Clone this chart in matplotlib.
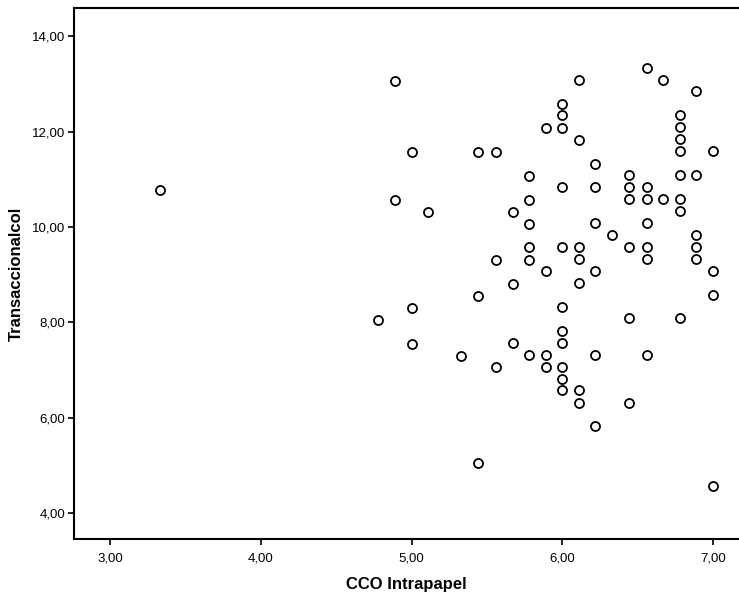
"""Scatter: CCO Intrapapel vs Transaccionalcol (SPSS-style open circles)."""
import matplotlib
matplotlib.use('Agg')
import matplotlib.pyplot as plt
from matplotlib.ticker import FuncFormatter

plt.rcParams['font.family'] = ['Liberation Sans', 'DejaVu Sans']

# values
cco_intrapapel = [
    3.33, 4.89, 5.89, 5.00, 5.44, 5.56, 5.78, 4.89, 5.78, 5.11,
    5.67, 6.56, 6.11, 6.67, 6.89, 6.00, 6.00, 6.00, 6.78, 6.78,
    6.78, 6.78, 7.00, 6.11, 6.22, 6.44, 6.78, 6.89, 6.00, 6.22,
    6.44, 6.56, 6.44, 6.56, 6.67, 6.78, 6.78, 6.22, 6.56, 6.33,
    6.89, 5.78, 5.78, 6.00, 6.11, 6.44, 6.56, 6.89, 5.56, 5.78,
    6.11, 6.56, 6.89, 5.89, 6.22, 7.00, 6.11, 5.67, 7.00, 5.44,
    5.00, 6.00, 4.78, 6.44, 6.78, 6.00, 5.00, 5.67, 6.00, 5.33,
    5.78, 5.89, 6.22, 6.56, 5.56, 5.89, 6.00, 6.00, 6.00, 6.11,
    6.11, 6.44, 6.22, 5.44, 7.00,
]
transaccionalcol = [
    10.78, 13.07, 12.08, 11.57, 11.57, 11.57, 11.07, 10.56, 10.56, 10.32,
    10.32, 13.34, 13.09, 13.09, 12.85, 12.59, 12.34, 12.08, 12.34, 12.09,
    11.85, 11.60, 11.60, 11.83, 11.33, 11.09, 11.10, 11.10, 10.83, 10.83,
    10.84, 10.84, 10.59, 10.59, 10.59, 10.59, 10.34, 10.08, 10.08, 9.84,
    9.84, 10.07, 9.57, 9.57, 9.57, 9.58, 9.58, 9.58, 9.31, 9.31,
    9.33, 9.33, 9.33, 9.07, 9.08, 9.08, 8.82, 8.81, 8.58, 8.56,
    8.30, 8.32, 8.05, 8.08, 8.08, 7.81, 7.55, 7.56, 7.56, 7.30,
    7.31, 7.31, 7.32, 7.32, 7.06, 7.07, 7.06, 6.81, 6.57, 6.57,
    6.31, 6.31, 5.82, 5.05, 4.57,
]
x_ticks = [3, 4, 5, 6, 7]
y_ticks = [4, 6, 8, 10, 12, 14]

fig = plt.figure(figsize=(7.39, 6.01), dpi=100)
ax = fig.add_axes([0.100, 0.103, 0.900, 0.884])

ax.plot(cco_intrapapel, transaccionalcol, linestyle='none', marker='o',
        markersize=6.5, markerfacecolor='none', markeredgecolor='black',
        markeredgewidth=1.3)

ax.set_xlim(2.761, 7.172)
ax.set_ylim(3.45, 14.6)
ax.set_xticks(x_ticks)
ax.set_yticks(y_ticks)
comma = FuncFormatter(lambda v, p: f'{v:.2f}'.replace('.', ','))
ax.xaxis.set_major_formatter(comma)
ax.yaxis.set_major_formatter(comma)
ax.tick_params(axis='both', direction='out', length=4, width=1.2,
               labelsize=9.5, colors='black')
ax.tick_params(axis='x', pad=6)
ax.tick_params(axis='y', pad=2)

for side in ('left', 'bottom', 'top'):
    ax.spines[side].set_linewidth(1.5)
ax.spines['right'].set_visible(False)

ax.set_xlabel('CCO Intrapapel', fontsize=12, fontweight='bold', labelpad=9)
ax.set_ylabel('Transaccionalcol', fontsize=12, fontweight='bold', labelpad=6)

fig.savefig('out.png', dpi=100)
